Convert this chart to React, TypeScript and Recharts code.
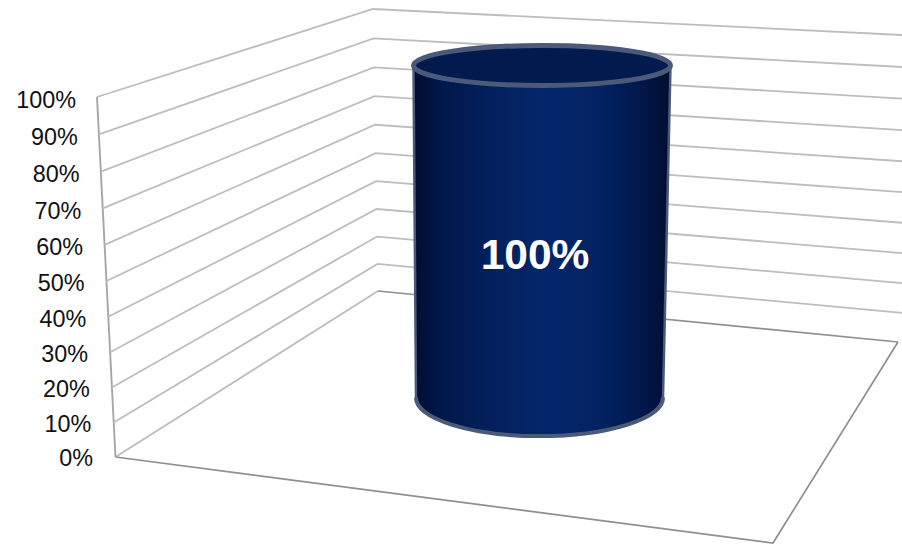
import React from 'react';
import { BarChart, Bar, CartesianGrid, LabelList, XAxis, YAxis } from 'recharts';

const categories = ['Completed'];
const seriesValues = [1];
const yTicks = [0, 0.1, 0.2, 0.3, 0.4, 0.5, 0.6, 0.7, 0.8, 0.9, 1];
const yTickLabels = ['0%', '10%', '20%', '30%', '40%', '50%', '60%', '70%', '80%', '90%', '100%'];

const rows = categories.map((name, i) => ({ name, value: seriesValues[i] }));

const WIDTH = 902;
const HEIGHT = 544;
const PLOT_TOP = 97;
const PLOT_BOTTOM = 457;
const FONT = '"Liberation Sans", Arial, sans-serif';

// Foreshortening of the value axis in the 3D view.
const warp = (t: number) => (t * (1 - 0.043)) / (1 - 0.043 * t);
const unit = (y: number) => (PLOT_BOTTOM - y) / (PLOT_BOTTOM - PLOT_TOP);
const mix = (a: number, b: number, t: number) => a + (b - a) * t;

// The wall corners as heights at value 0 and value 1.
const frontX = (p: number) => mix(115.5, 97, p);
const frontY = (p: number) => mix(PLOT_BOTTOM, PLOT_TOP, p);
const backX = (p: number) => mix(378, 373, p);
const backY = (p: number) => mix(291, 9, p);
const rightY = (p: number) => mix(342.5, 35, p);

const WALL = '#bdbdbd';
const FLOOR = '#8f8f8f';

function WallLine(props: any) {
  const p = warp(unit(props.y1));
  const isFloor = p < 0.001;
  return (
    <g fill="none" strokeLinejoin="miter">
      {isFloor ? (
        <>
          <path d={`M${frontX(0)} ${frontY(0)} L${backX(0)} ${backY(0)}`} stroke={WALL} strokeWidth={1.8} />
          <path d={`M${backX(0)} ${backY(0)} L898 342`} stroke={FLOOR} strokeWidth={1.6} />
          <path d={`M${frontX(0)} ${frontY(0)} L773 543 L898 342`} stroke={FLOOR} strokeWidth={1.7} />
          <path d={`M${frontX(0)} ${frontY(0)} L${frontX(1)} ${frontY(1)}`} stroke="#a6a6a6" strokeWidth={1.9} />
        </>
      ) : (
        <path
          d={`M${frontX(p)} ${frontY(p)} L${backX(p)} ${backY(p)} L902 ${rightY(p)}`}
          stroke={WALL}
          strokeWidth={1.8}
        />
      )}
    </g>
  );
}

function ValueTick(props: any) {
  const { y, payload } = props;
  const p = warp(unit(y));
  const index = yTicks.indexOf(payload.value);
  return (
    <text
      x={mix(93, 76, p)}
      y={mix(458, 100, p)}
      textAnchor="end"
      dominantBaseline="central"
      fontFamily={FONT}
      fontSize={23.4}
      fill="#111111"
    >
      {yTickLabels[index]}
    </text>
  );
}

// Cylinder standing on the floor, about a third of the way back from the front edge.
const DEPTH = 0.358;
const RIM = '#4a5a78';

function Cylinder(props: any) {
  const { x, y, width, height } = props;
  const cx = x + width / 2;
  const topP = warp(unit(y));
  const baseP = warp(unit(y + height));
  const yt = mix(frontY(topP), backY(topP), DEPTH);
  const yb = mix(frontY(baseP), backY(baseP), DEPTH);
  const rxt = width / 2 + 1.5;
  const rxb = width / 2 - 3.5;
  const cxt = cx + 1;
  const cxb = cx - 1.5;
  const ryt = 20;
  const ryb = 38.5;
  const base = `M${cxb - rxb} ${yb} A${rxb} ${ryb} 0 0 0 ${cxb + rxb} ${yb}`;
  const side = `M${cxt - rxt} ${yt} L${cxb - rxb} ${yb} A${rxb} ${ryb} 0 0 0 ${cxb + rxb} ${yb} L${cxt + rxt} ${yt} Z`;
  return (
    <g>
      <path d={side} fill="url(#cylinderSide)" stroke={RIM} strokeWidth={2.5} strokeLinejoin="round" />
      <path d={base} fill="none" stroke={RIM} strokeWidth={4} />
      <ellipse cx={cxt} cy={yt} rx={rxt} ry={ryt} fill="#021a4e" stroke={RIM} strokeWidth={5} />
    </g>
  );
}

function ValueLabel(props: any) {
  const { x, y, width, height, value } = props;
  return (
    <text
      x={x + width / 2 - 6}
      y={y + height * 0.438}
      textAnchor="middle"
      dominantBaseline="central"
      fontFamily={FONT}
      fontWeight={700}
      fontSize={42.5}
      fill="#ffffff"
    >
      {`${Math.round(value * 100)}%`}
    </text>
  );
}

export default function App() {
  return (
    <div style={{ position: 'absolute', left: 0, top: 0, width: WIDTH, height: HEIGHT, overflow: 'hidden', background: '#fff' }}>
      <BarChart
        width={WIDTH}
        height={HEIGHT}
        data={rows}
        margin={{ top: PLOT_TOP, right: 0, bottom: HEIGHT - PLOT_BOTTOM, left: 0 }}
        barSize={254}
      >
        <defs>
          <linearGradient id="cylinderSide" x1="0" y1="0" x2="1" y2="0">
            <stop offset="0" stopColor="#000d2e" />
            <stop offset="0.1" stopColor="#01174a" />
            <stop offset="0.3" stopColor="#02205c" />
            <stop offset="0.5" stopColor="#04266a" />
            <stop offset="0.72" stopColor="#032263" />
            <stop offset="0.9" stopColor="#01174a" />
            <stop offset="1" stopColor="#000d2e" />
          </linearGradient>
        </defs>
        <CartesianGrid horizontal={WallLine as any} vertical={false} />
        <XAxis dataKey="name" hide padding={{ left: 83, right: 0 }} />
        <YAxis
          width={97}
          domain={[0, 1]}
          ticks={yTicks}
          interval={0}
          axisLine={false}
          tickLine={false}
          tick={ValueTick as any}
        />
        <Bar dataKey="value" isAnimationActive={false} shape={Cylinder as any}>
          <LabelList dataKey="value" content={ValueLabel as any} />
        </Bar>
      </BarChart>
    </div>
  );
}
